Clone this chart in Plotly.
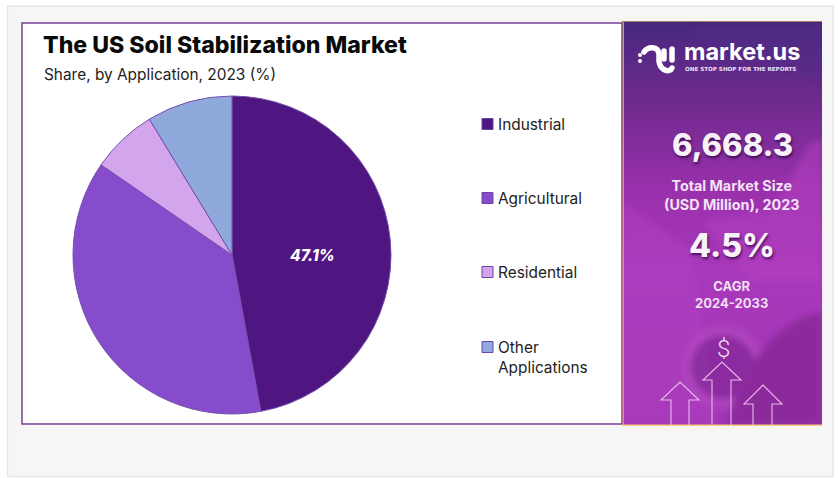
import base64
import plotly.graph_objects as go

W, H = 838, 478

# Chart data
categories = ["Industrial", "Agricultural", "Residential", "Other Applications"]
legend_labels = ["Industrial", "Agricultural", "Residential", "Other<br>Applications"]
shares = [47.1, 37.5, 6.7, 8.7]
slice_colors = ["#4f1681", "#864ccc", "#d2a5ec", "#8fa9dd"]

title_text = "The US Soil Stabilization Market"
subtitle_text = "Share, by Application, 2023 (%)"
market_size = "6,668.3"
market_size_caption = "Total Market Size<br>(USD Million), 2023"
cagr_value = "4.5%"
cagr_caption = "CAGR<br>2024-2033"

HEAD = "Inter, sans-serif"


def px(x):
    return x / W


def py(y):
    return 1 - y / H


def rect(x0, y0, x1, y1, fill, line=None, lw=0, layer="below"):
    return dict(type="rect", xref="paper", yref="paper", layer=layer,
                x0=px(x0), x1=px(x1), y0=py(y0), y1=py(y1),
                fillcolor=fill, line=dict(color=line or fill, width=lw))


def note(x, y, text, size, color="#111111", anchor="center", family=HEAD, shadow=None, weight=None, style=None):
    font = dict(size=size, color=color, family=family)
    if shadow:
        font["shadow"] = shadow
    if weight:
        font["weight"] = weight
    if style:
        font["style"] = style
    return dict(xref="paper", yref="paper", x=px(x), y=py(y), text=text, showarrow=False,
                xanchor=anchor, yanchor="middle", font=font, align="left" if anchor == "left" else "center",
                borderpad=0)


# Decorative sidebar: gradient backdrop, soft shapes, logo mark and arrow outlines
sidebar_svg = """<svg xmlns="http://www.w3.org/2000/svg" width="200" height="404" viewBox="0 0 200 404">
<defs>
<linearGradient id="g" x1="0" y1="0" x2="0" y2="1">
<stop offset="0" stop-color="#47287f"/>
<stop offset="0.2" stop-color="#6f2a8e"/>
<stop offset="0.42" stop-color="#9a30ac"/>
<stop offset="0.62" stop-color="#a838bb"/>
<stop offset="1" stop-color="#a135b4"/>
</linearGradient>
<filter id="b"><feGaussianBlur stdDeviation="3"/></filter>
</defs>
<rect width="200" height="404" fill="url(#g)"/>
<g filter="url(#b)">
<polygon points="60,12 200,60 200,5 80,5" fill="#54298a" opacity="0.5"/>
<polygon points="80,200 150,190 190,120 200,120 200,260 130,260" fill="#b23ec0" opacity="0.55"/>
<polygon points="0,180 70,230 95,404 0,404" fill="#b13dc4" opacity="0.45"/>
<circle cx="101" cy="346" r="42" fill="#bb58c6" opacity="0.4"/>
<circle cx="101" cy="346" r="32" fill="#8a2c9e" opacity="0.95"/>
<path d="M105 404 C118 350 150 300 200 292 L200 404 Z" fill="#8c2a9c"/>
</g>
<g fill="none" stroke="#e9b9ec" stroke-width="1.1">
<path d="M49 404 V379 H39 L58 361 L77 379 H67 V404"/>
<path d="M90 404 V359 H81 L100 341 L119 359 H109 V404"/>
<path d="M131 404 V383 H122 L141 364 L160 383 H150 V404"/>
</g>
<g fill="none" stroke="#ffffff" stroke-width="5.5" stroke-linecap="round">
<path d="M22 31 C26 25 36 25 37 33 V40 C38 50 48 52 50 47"/>
<path d="M42 30 V38"/>
<path d="M50 28 V39"/>
</g>
<g fill="#ffffff">
<circle cx="18" cy="34" r="2"/><circle cx="18" cy="40" r="2"/>
</g>
</svg>"""
sidebar_src = "data:image/svg+xml;base64," + base64.b64encode(sidebar_svg.encode()).decode()

fig = go.Figure(go.Pie(
    labels=categories,
    values=shares,
    textinfo="none",
    marker=dict(colors=slice_colors, line=dict(color="#7550ad", width=1)),
    sort=False,
    direction="clockwise",
    rotation=0,
    showlegend=False,
    hoverinfo="label+percent",
    domain=dict(x=[px(232 - 159), px(232 + 159)], y=[py(255 + 159), py(255 - 159)]),
))

shapes = [
    rect(7.5, 6, 833, 476.5, "#f6f6f6", "#e6e6e6", 1.5),
    rect(22, 23, 622, 424, "#ffffff", "#7b3f98", 1.5),
]
legend_y = [124, 198, 272, 347]
legend_x = 482
annotations = [
    note(42, 45, title_text, 23.1, "#0a0a0a", anchor="left", weight=800),
    note(43, 74, subtitle_text, 15.4, "#222222", anchor="left"),
    note(312, 256, f"{shares[0]}%", 15.5, "#ffffff", weight=800, style="italic"),
]
for label, color, y in zip(legend_labels, slice_colors, legend_y):
    shapes.append(rect(legend_x, y - 5.5, legend_x + 11, y + 5.5, color, "#6a45a8", 1))
    text_y = y + 10.5 if "<br>" in label else y
    annotations.append(note(496.5, text_y, label, 15.4, "#222222", anchor="left"))

shapes.append(rect(622.5, 21, 624, 425, "#c9a15f", layer="above"))
shapes.append(rect(622, 424.5, 822, 426, "#f7cc80", layer="above"))
shapes.append(rect(622, 21, 822, 22, "#a9805f", layer="above"))

shadow = "1px 2px 3px rgba(40,0,60,0.75)"
annotations += [
    note(683, 51.5, "market.us", 23.5, "#ffffff", anchor="left", weight=700),
    note(684, 69, "ONE STOP SHOP FOR THE REPORTS", 5.6, "#f0e0f5", family="'DejaVu Sans', sans-serif", anchor="left", weight=700),
    note(732, 144, market_size, 31, "#f8f2fb", shadow=shadow, weight=800),
    note(731, 195, market_size_caption, 14.3, "#f3e3f7", weight=700),
    note(732, 245, cagr_value, 32, "#f8f2fb", shadow=shadow, weight=800),
    note(731, 294, cagr_caption, 13, "#f0dff5", weight=700),
    note(723, 349, "$", 24, "#eeddf2", family="Roboto, sans-serif", weight=300),
]

fig.update_layout(
    width=W,
    height=H,
    autosize=False,
    margin=dict(l=0, r=0, t=0, b=0),
    paper_bgcolor="#ffffff",
    shapes=shapes,
    annotations=annotations,
    images=[dict(source=sidebar_src, xref="paper", yref="paper", x=px(622), y=py(21),
                 sizex=200 / W, sizey=404 / H, xanchor="left", yanchor="top",
                 sizing="stretch", layer="above")],
)

fig.write_html("out.html", config=dict(displayModeBar=False))
